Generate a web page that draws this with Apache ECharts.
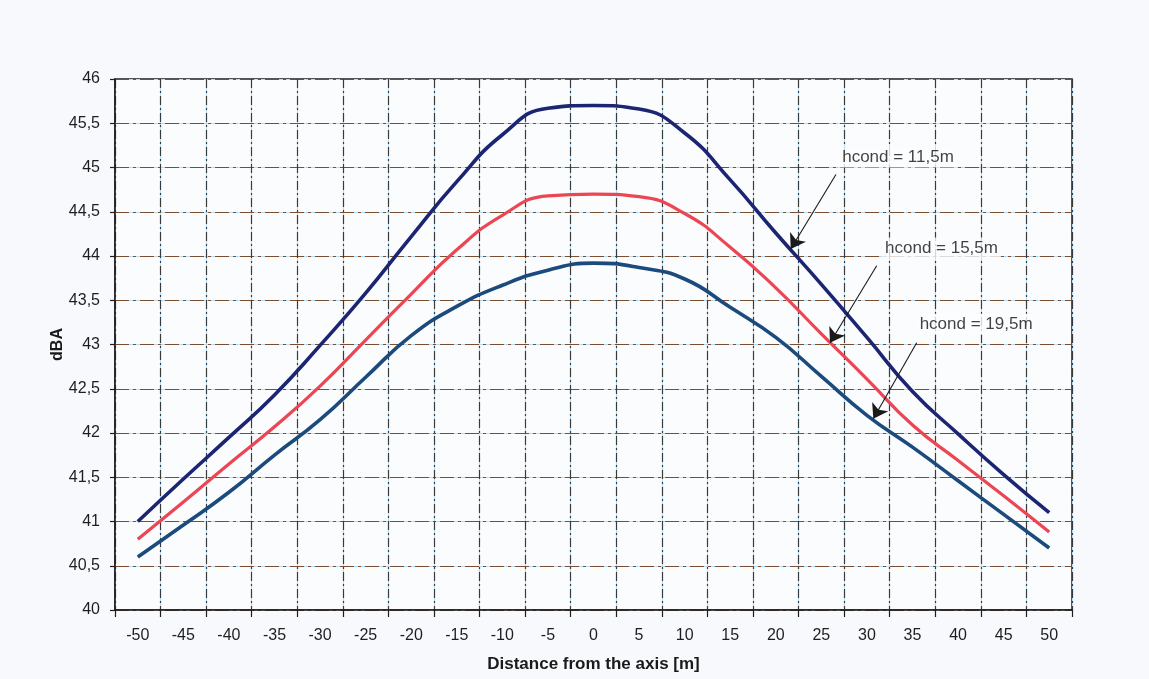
<!DOCTYPE html>
<html>
<head>
<meta charset="utf-8">
<style>
  html, body { margin: 0; padding: 0; background: #f7f9fc; }
  #chart { width: 1149px; height: 679px; }
</style>
<script src="https://cdn.jsdelivr.net/npm/echarts@6/dist/echarts.min.js"></script>
</head>
<body>
<div id="chart"></div>
<script>
// Distance from the line axis, metres
const distances = ['-50','-45','-40','-35','-30','-25','-20','-15','-10','-5','0','5','10','15','20','25','30','35','40','45','50'];

// Noise level (dBA) for each conductor height
const hcond11_5 = [41.0, 41.48, 41.95, 42.43, 42.99, 43.58, 44.22, 44.84, 45.37, 45.67, 45.7, 45.66, 45.39, 44.86, 44.26, 43.68, 43.08, 42.47, 41.99, 41.53, 41.1];
const hcond15_5 = [40.8, 41.22, 41.65, 42.07, 42.53, 43.05, 43.57, 44.07, 44.46, 44.68, 44.7, 44.67, 44.48, 44.1, 43.64, 43.12, 42.61, 42.09, 41.69, 41.29, 40.88];
const hcond19_5 = [40.6, 40.96, 41.33, 41.75, 42.15, 42.63, 43.1, 43.43, 43.67, 43.84, 43.92, 43.87, 43.74, 43.42, 43.08, 42.64, 42.2, 41.84, 41.46, 41.08, 40.7];

// Y axis range (dBA)
const yMin = 40, yMax = 46, yStep = 0.5;

// Callout labels: [distance, dBA] where the text starts
const calloutNames = ['hcond = 11,5m', 'hcond = 15,5m', 'hcond = 19,5m'];
const calloutText = [[26.9, 45.12], [31.6, 44.09], [35.4, 43.23]];
// Callout arrows: from [distance, dBA] to the tip on the curve
const calloutArrows = [
  [[26.6, 44.92], [21.64, 44.08]],
  [[31.07, 43.89], [25.95, 43.02]],
  [[35.46, 43.02], [30.7, 42.16]]
];

const font = 'Liberation Sans, Arial, Helvetica, sans-serif';
const chart = echarts.init(document.getElementById('chart'));

const commonYAxis = {
  type: 'value', min: yMin, max: yMax, interval: yStep
};

chart.setOption({
  backgroundColor: '#f7f9fc',
  animation: false,
  grid: {
    left: 115, right: 77, top: 79, bottom: 69,
    show: true, borderColor: '#1e1e1e', borderWidth: 1.5, backgroundColor: '#fbfcfe'
  },
  xAxis: [
    {
      type: 'category',
      data: distances,
      boundaryGap: true,
      name: 'Distance from the axis [m]',
      nameLocation: 'middle',
      nameGap: 46,
      nameMoveOverlap: false,
      nameTextStyle: { fontFamily: font, fontSize: 17, fontWeight: 'bold', color: '#1a1a1a' },
      axisLine: { show: true, onZero: false, lineStyle: { color: '#1e1e1e', width: 1.5 } },
      axisTick: { show: true, alignWithLabel: false, length: 7, lineStyle: { color: '#1e1e1e', width: 1.2 } },
      axisLabel: { fontFamily: font, fontSize: 16, color: '#1e1e1e', margin: 18 },
      splitLine: { show: true, lineStyle: { color: '#3a3a3a', width: 1.2, type: [9, 3, 2, 3] } },
      z: 2
    },
    {
      // light blue ruling of the graph paper
      type: 'category',
      data: distances,
      boundaryGap: true,
      position: 'bottom',
      axisLine: { show: false, onZero: false },
      axisTick: { show: false },
      axisLabel: { show: false },
      splitLine: { show: true, lineStyle: { color: '#b4dbf2', width: 1 } },
      z: 1
    },
    {
      // continuous scale used to place the callouts
      type: 'value',
      min: -52.5, max: 52.5,
      show: false,
      axisLine: { onZero: false }
    }
  ],
  yAxis: [
    Object.assign({}, commonYAxis, {
      name: 'dBA',
      nameLocation: 'middle',
      nameRotate: 90,
      nameGap: 49,
      nameMoveOverlap: false,
      nameTextStyle: { fontFamily: font, fontSize: 16, fontWeight: 'bold', color: '#1a1a1a' },
      axisLine: { show: true, onZero: false, lineStyle: { color: '#1e1e1e', width: 1.5 } },
      axisTick: { show: true, length: 5, lineStyle: { color: '#1e1e1e', width: 1.2 } },
      axisLabel: {
        fontFamily: font, fontSize: 16, color: '#1e1e1e', margin: 15,
        formatter: v => String(v).replace('.', ',')
      },
      splitLine: { show: true, lineStyle: { color: '#7a4e2e', width: 1.2, type: [14, 4, 3, 4] } },
      z: 2
    }),
    Object.assign({}, commonYAxis, {
      axisLine: { show: false, onZero: false },
      axisTick: { show: false },
      axisLabel: { show: false },
      splitLine: { show: true, lineStyle: { color: '#b4dbf2', width: 1 } },
      z: 1
    })
  ],
  series: [
    {
      name: 'hcond = 11,5m', type: 'line', data: hcond11_5,
      smooth: 0.5, symbol: 'none',
      lineStyle: { color: '#1c2572', width: 3.6 }, z: 5
    },
    {
      name: 'hcond = 15,5m', type: 'line', data: hcond15_5,
      smooth: 0.5, symbol: 'none',
      lineStyle: { color: '#ec4553', width: 3.2 }, z: 5
    },
    {
      name: 'hcond = 19,5m', type: 'line', data: hcond19_5,
      smooth: 0.5, symbol: 'none',
      lineStyle: { color: '#1b4b7c', width: 3.6 }, z: 5
    },
    {
      type: 'lines',
      coordinateSystem: 'cartesian2d',
      xAxisIndex: 2, yAxisIndex: 0,
      symbol: ['none', 'arrow'],
      symbolSize: [0, 14],
      lineStyle: { color: '#1a1a1a', width: 1.1, opacity: 1, curveness: 0 },
      data: calloutArrows.map(c => ({ coords: c })),
      z: 6
    },
    {
      type: 'scatter',
      xAxisIndex: 2, yAxisIndex: 0,
      symbolSize: 1,
      itemStyle: { color: 'rgba(0,0,0,0)' },
      label: {
        show: true, position: 'right', distance: 0,
        formatter: p => p.name,
        fontFamily: font, fontSize: 17, color: '#111',
        backgroundColor: '#fbfcfe', padding: [2, 3]
      },
      data: calloutText.map((c, i) => ({ value: c, name: calloutNames[i] })),
      z: 6
    }
  ]
});
</script>
</body>
</html>
